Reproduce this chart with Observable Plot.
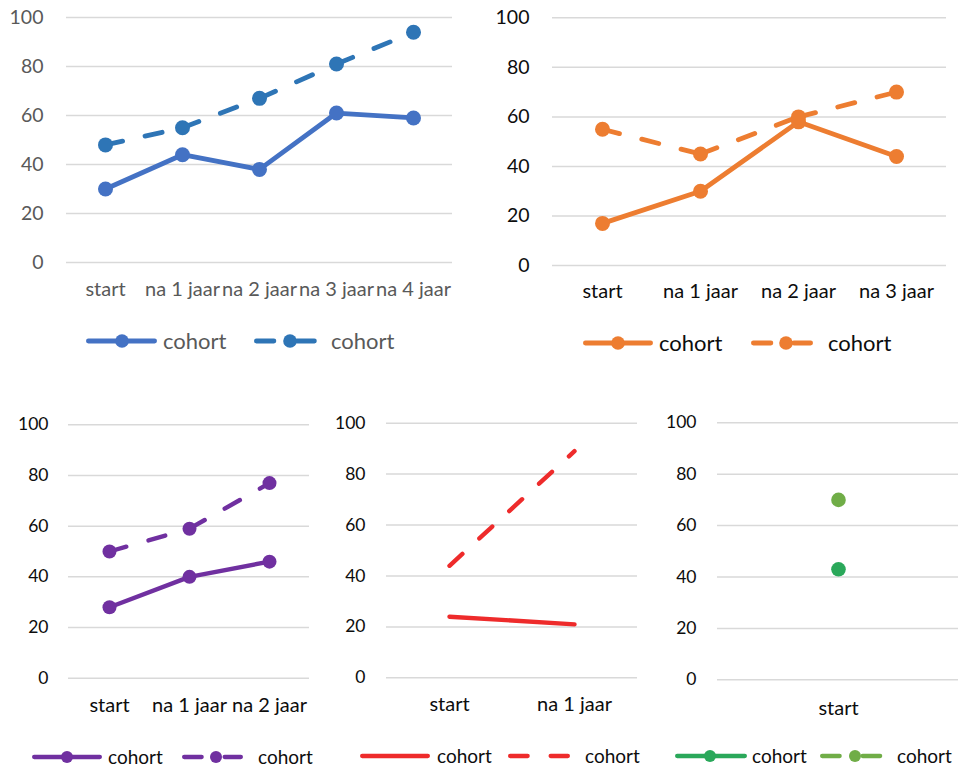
<!DOCTYPE html>
<html><head><meta charset="utf-8">
<script src="https://cdn.jsdelivr.net/npm/d3@7"></script>
<script src="https://cdn.jsdelivr.net/npm/@observablehq/plot@0.6"></script>
<style>
body{margin:0;background:#fff;font-family:Lato,"Open Sans",sans-serif;}
#root{position:relative;width:961px;height:770px;overflow:hidden;}
</style></head>
<body><div id="root"></div>
<script>
// ---- data ----
const yTicks = [0, 20, 40, 60, 80, 100];
const cats1 = ["start", "na 1 jaar", "na 2 jaar", "na 3 jaar", "na 4 jaar"];
const solid1 = [30, 44, 38, 61, 59];
const dashed1 = [48, 55, 67, 81, 94];
const cats2 = ["start", "na 1 jaar", "na 2 jaar", "na 3 jaar"];
const solid2 = [17, 30, 58, 44];
const dashed2 = [55, 45, 60, 70];
const cats3 = ["start", "na 1 jaar", "na 2 jaar"];
const solid3 = [28, 40, 46];
const dashed3 = [50, 59, 77];
const cats4 = ["start", "na 1 jaar"];
const solid4 = [24, 21];
const dashed4 = [44, 89];
const cats5 = ["start"];
const solid5 = [43];
const dashed5 = [70];
const seriesNames = ["cohort", "cohort"];

// ---- layout / style ----
const root = document.getElementById("root");
const DASH = "17.5,23";

function rows(cats, vals) { return cats.map((c, i) => ({x: c, y: vals[i]})); }
function segs(cats, vals) {
  const out = [];
  for (let i = 0; i + 1 < cats.length; i++) out.push({x1: cats[i], y1: vals[i], x2: cats[i + 1], y2: vals[i + 1]});
  return out;
}

function panel(p) {
  const s = rows(p.cats, p.solid), d = rows(p.cats, p.dashed);
  const marks = [
    Plot.ruleY(yTicks, {stroke: "#d9d9d9", strokeWidth: 1.5}),
    Plot.axisY({ticks: yTicks, tickSize: 0, tickPadding: p.yPad, fontSize: p.yFont, fill: p.text, label: null}),
    Plot.axisX({tickSize: 0, tickPadding: p.xPad, fontSize: p.xFont, fill: p.text, label: null}),
    Plot.line(s, {x: "x", y: "y", stroke: p.color, strokeWidth: p.sw, strokeLinecap: "round", strokeLinejoin: "round"})
  ];
  if (p.markers) marks.push(Plot.dot(s, {x: "x", y: "y", r: p.r, fill: p.color, stroke: null}));
  marks.push(Plot.link(segs(p.cats, p.dashed), {x1: "x1", y1: "y1", x2: "x2", y2: "y2", stroke: p.dcolor, strokeWidth: p.sw, strokeLinecap: "round", strokeDasharray: DASH}));
  if (p.markers) marks.push(Plot.dot(d, {x: "x", y: "y", r: p.r, fill: p.dcolor, stroke: null}));
  const chart = Plot.plot({
    width: p.w, height: p.h,
    marginLeft: p.ml, marginRight: p.mr, marginTop: p.mt, marginBottom: p.mb,
    x: {type: "point", domain: p.cats, padding: 0.5, label: null},
    y: {domain: [0, 100], label: null},
    style: {fontFamily: "Lato, 'Open Sans', sans-serif", background: "transparent", overflow: "visible", color: p.text},
    marks
  });
  chart.style.position = "absolute";
  chart.style.left = p.left + "px";
  chart.style.top = p.top + "px";
  root.appendChild(chart);
}

function legend(p, L) {
  const svg = d3.select(root).append("svg")
    .attr("width", 961).attr("height", 770)
    .style("position", "absolute").style("left", "0px").style("top", "0px")
    .style("pointer-events", "none");
  L.items.forEach((it, i) => {
    const col = i === 0 ? p.color : p.dcolor;
    const half = L.sw / 2;
    svg.append("line")
      .attr("x1", it.x0 + half).attr("x2", it.x1 - half).attr("y1", L.y).attr("y2", L.y)
      .attr("stroke", col).attr("stroke-width", L.sw).attr("stroke-linecap", "round")
      .attr("stroke-dasharray", i === 0 ? null : DASH);
    if (p.markers) svg.append("circle").attr("cx", it.c).attr("cy", L.y).attr("r", L.r).attr("fill", col);
    svg.append("text").attr("x", it.t).attr("y", L.y).attr("dy", "0.35em")
      .attr("font-family", "Lato, 'Open Sans', sans-serif").attr("font-size", L.font)
      .attr("fill", p.text).text(seriesNames[i]);
  });
}

const panels = [
  {cats: cats1, solid: solid1, dashed: dashed1, color: "#4472C4", dcolor: "#2E75B6", text: "#595959",
   left: 0, top: 0, w: 470, h: 310, ml: 66, mr: 18, mt: 17, mb: 48,
   yFont: 19.5, xFont: 20, yPad: 23, xPad: 19, sw: 4.8, r: 7.5, markers: true,
   legend: {y: 341, sw: 4.8, r: 6.8, font: 22, items: [{x0: 86, x1: 157, c: 122, t: 163}, {x0: 254, x1: 317, c: 290, t: 331}]}},
  {cats: cats2, solid: solid2, dashed: dashed2, color: "#ED7D31", dcolor: "#ED7D31", text: "#0d0d0d",
   left: 480, top: 0, w: 481, h: 312, ml: 72, mr: 15, mt: 17.3, mb: 47,
   yFont: 19.5, xFont: 20, yPad: 23, xPad: 18, sw: 4.8, r: 7.5, markers: true,
   legend: {y: 343, sw: 4.8, r: 6.8, font: 22, items: [{x0: 583, x1: 653, c: 618, t: 659}, {x0: 751, x1: 813, c: 786, t: 828}]}},
  {cats: cats3, solid: solid3, dashed: dashed3, color: "#7030A0", dcolor: "#7030A0", text: "#0d0d0d",
   left: 0, top: 400, w: 320, h: 330, ml: 68, mr: 11, mt: 24.3, mb: 52.3,
   yFont: 17.5, xFont: 20, yPad: 20, xPad: 20, sw: 4.4, r: 7, markers: true,
   legend: {y: 757, sw: 4.3, r: 6, font: 19, items: [{x0: 32, x1: 102, c: 67, t: 108}, {x0: 182, x1: 243, c: 216, t: 258}]}},
  {cats: cats4, solid: solid4, dashed: dashed4, color: "#EE2B2B", dcolor: "#EE2B2B", text: "#0d0d0d",
   left: 320, top: 400, w: 330, h: 330, ml: 66, mr: 13, mt: 22.7, mb: 52.7,
   yFont: 17.5, xFont: 20, yPad: 21, xPad: 19, sw: 4.4, r: 7, markers: false,
   legend: {y: 756, sw: 4.3, r: 6, font: 19, items: [{x0: 360, x1: 430, c: 395, t: 437}, {x0: 508, x1: 570, c: 540, t: 585}]}},
  {cats: cats5, solid: solid5, dashed: dashed5, color: "#2AA85A", dcolor: "#70AD47", text: "#0d0d0d",
   left: 640, top: 400, w: 321, h: 330, ml: 77, mr: 3, mt: 22.3, mb: 50.7,
   yFont: 17.5, xFont: 20, yPad: 21, xPad: 20.5, sw: 4.4, r: 7.3, markers: true,
   legend: {y: 756, sw: 4.3, r: 6, font: 19, items: [{x0: 675, x1: 747, c: 710, t: 752}, {x0: 820, x1: 883, c: 855, t: 897}]}}
];

panels.forEach(p => { panel(p); legend(p, p.legend); });
</script>
</body></html>
